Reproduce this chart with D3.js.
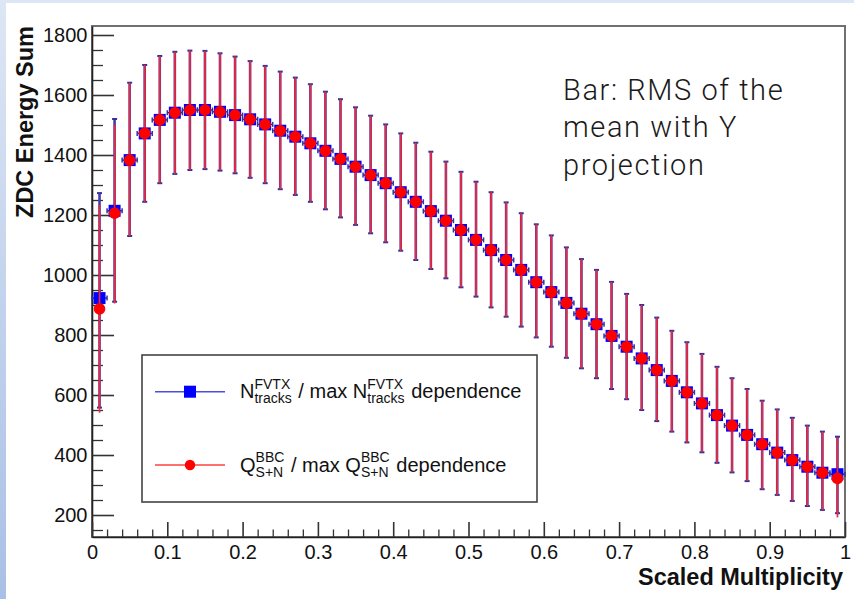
<!DOCTYPE html>
<html>
<head>
<meta charset="utf-8">
<script src="https://cdn.jsdelivr.net/npm/d3@7"></script>
<style>
body { margin: 0; background: #fff; }
svg { display: block; font-family: "Liberation Sans", Arial, Helvetica, sans-serif; }
</style>
</head>
<body>
<svg id="chart" width="854" height="599"></svg>
<script>
// bin centres on the scaled multiplicity axis
var binCenters = [0.01, 0.03, 0.05, 0.07, 0.09, 0.11, 0.13, 0.15, 0.17, 0.19,
                  0.21, 0.23, 0.25, 0.27, 0.29, 0.31, 0.33, 0.35, 0.37, 0.39,
                  0.41, 0.43, 0.45, 0.47, 0.49, 0.51, 0.53, 0.55, 0.57, 0.59,
                  0.61, 0.63, 0.65, 0.67, 0.69, 0.71, 0.73, 0.75, 0.77, 0.79,
                  0.81, 0.83, 0.85, 0.87, 0.89, 0.91, 0.93, 0.95, 0.97, 0.99];
var binHalfWidth = 0.01;

var xTickValues = [0, 0.1, 0.2, 0.3, 0.4, 0.5, 0.6, 0.7, 0.8, 0.9, 1];
var xTickLabels = ["0", "0.1", "0.2", "0.3", "0.4", "0.5", "0.6", "0.7", "0.8", "0.9", "1"];
var yTickValues = [200, 400, 600, 800, 1000, 1200, 1400, 1600, 1800];
var yTickLabels = ["200", "400", "600", "800", "1000", "1200", "1400", "1600", "1800"];

// N_tracks^FVTX / max dependence: mean and RMS bar ends
var fvtxMean = [923, 1214, 1383, 1472, 1517, 1541, 1550, 1550, 1544, 1533,
                1519, 1502, 1481, 1461, 1439, 1414, 1387, 1361, 1333, 1306,
                1276, 1244, 1213, 1181, 1150, 1117, 1083, 1050, 1017, 976,
                943, 907, 871, 836, 797, 761, 722, 683, 647, 609,
                572, 533, 498, 467, 436, 408, 383, 361, 341, 336];
var fvtxHigh = [1273, 1520, 1641, 1700, 1730, 1744, 1748, 1747, 1739, 1728,
                1713, 1697, 1678, 1658, 1636, 1611, 1586, 1559, 1531, 1502,
                1472, 1441, 1411, 1378, 1344, 1311, 1276, 1242, 1206, 1169,
                1132, 1092, 1053, 1017, 977, 937, 900, 858, 814, 776,
                737, 694, 656, 620, 581, 552, 524, 498, 478, 461];
var fvtxLow = [558, 911, 1130, 1244, 1306, 1337, 1350, 1353, 1348, 1339,
               1324, 1306, 1286, 1267, 1244, 1219, 1192, 1167, 1139, 1109,
               1081, 1050, 1020, 989, 959, 928, 892, 861, 828, 792,
               761, 724, 689, 656, 620, 586, 550, 513, 478, 442,
               409, 374, 342, 313, 286, 267, 247, 230, 217, 206];

// Q_S+N^BBC / max dependence
var bbcMean = [887, 1206, 1383, 1472, 1517, 1541, 1550, 1550, 1544, 1533,
               1519, 1502, 1481, 1461, 1439, 1414, 1387, 1361, 1333, 1306,
               1276, 1244, 1213, 1181, 1150, 1117, 1083, 1050, 1017, 976,
               943, 907, 871, 836, 797, 761, 722, 683, 647, 609,
               572, 533, 498, 467, 436, 408, 383, 361, 341, 322];
var bbcHigh = [1233, 1500, 1641, 1700, 1730, 1744, 1748, 1747, 1739, 1728,
               1713, 1697, 1678, 1658, 1636, 1611, 1586, 1559, 1531, 1502,
               1472, 1441, 1411, 1378, 1344, 1311, 1276, 1242, 1206, 1169,
               1132, 1092, 1053, 1017, 977, 937, 900, 858, 814, 776,
               737, 694, 656, 620, 581, 552, 524, 498, 478, 458];
var bbcLow = [541, 905, 1130, 1244, 1306, 1337, 1350, 1353, 1348, 1339,
              1324, 1306, 1286, 1267, 1244, 1219, 1192, 1167, 1139, 1109,
              1081, 1050, 1020, 989, 959, 928, 892, 861, 828, 792,
              761, 724, 689, 656, 620, 586, 550, 513, 478, 442,
              409, 374, 342, 313, 286, 267, 247, 230, 217, 192];

var noteLines = ["Bar: RMS of the", "mean with Y", "projection"];

var svg = d3.select('#chart');
var frame = { left: 92, right: 845, top: 26, bottom: 537 };

// slide background strips
var defs = svg.append('defs');
var grad = defs.append('linearGradient')
    .attr('id', 'strip-grad')
    .attr('x1', 0).attr('y1', 0).attr('x2', 0).attr('y2', 1);
grad.append('stop').attr('offset', '0%').attr('stop-color', '#dde6f4');
grad.append('stop').attr('offset', '100%').attr('stop-color', '#a9c0e6');
svg.append('rect').attr('x', 0).attr('y', 0).attr('width', 854).attr('height', 3).attr('fill', '#dde6f4');
svg.append('rect').attr('x', 0).attr('y', 0).attr('width', 6).attr('height', 599).attr('fill', 'url(#strip-grad)');

var x = d3.scaleLinear().domain([0, 1]).range([frame.left, frame.right]);
var y = d3.scaleLinear().domain([126.7, 1830]).range([frame.bottom, frame.top]);

// frame
svg.append('rect')
    .attr('x', frame.left).attr('y', frame.top)
    .attr('width', frame.right - frame.left)
    .attr('height', frame.bottom - frame.top)
    .attr('fill', 'none')
    .attr('stroke', '#707070')
    .attr('stroke-width', 2);

// minor ticks
var yMinor = d3.range(150, 1830, 50).filter(function (v) { return v % 200 !== 0; });
var xMinor = d3.range(0, 50).map(function (i) { return i * 0.02; })
    .filter(function (v, i) { return i % 5 !== 0; });

svg.append('g')
    .attr('class', 'minor')
    .attr('transform', 'translate(' + frame.left + ',0)')
    .call(d3.axisLeft(y).tickValues(yMinor).tickSizeInner(-11).tickSizeOuter(0).tickFormat(''));
svg.append('g')
    .attr('class', 'minor')
    .attr('transform', 'translate(0,' + frame.bottom + ')')
    .call(d3.axisBottom(x).tickValues(xMinor).tickSizeInner(-7.5).tickSizeOuter(0).tickFormat(''));

// major ticks and labels
svg.append('g')
    .attr('class', 'major')
    .attr('transform', 'translate(' + frame.left + ',0)')
    .call(d3.axisLeft(y).tickValues(yTickValues).tickSizeInner(-22).tickSizeOuter(0).tickPadding(4.5)
        .tickFormat(function (d, i) { return yTickLabels[i]; }));
svg.append('g')
    .attr('class', 'major')
    .attr('transform', 'translate(0,' + frame.bottom + ')')
    .call(d3.axisBottom(x).tickValues(xTickValues).tickSizeInner(-15).tickSizeOuter(0).tickPadding(8)
        .tickFormat(function (d, i) { return xTickLabels[i]; }));

svg.selectAll('.minor .tick line').attr('stroke', '#333').attr('stroke-width', 1.3);
svg.selectAll('.major .tick line').attr('stroke', '#333').attr('stroke-width', 1.6);
svg.selectAll('.minor .domain').remove();
svg.selectAll('.major .domain').attr('stroke', '#222').attr('stroke-width', 1.6);
svg.selectAll('.major .tick text')
    .attr('font-size', 20)
    .attr('fill', '#111')
    .attr('font-family', '"Liberation Sans", Arial, sans-serif');

// axis titles
svg.append('text')
    .attr('transform', 'translate(33,' + frame.top + ') rotate(-90)')
    .attr('text-anchor', 'end')
    .attr('font-size', 23.5)
    .attr('font-weight', 'bold')
    .attr('fill', '#111')
    .text('ZDC Energy Sum');
svg.append('text')
    .attr('x', 843)
    .attr('y', 585)
    .attr('text-anchor', 'end')
    .attr('font-size', 23.5)
    .attr('font-weight', 'bold')
    .attr('fill', '#111')
    .text('Scaled Multiplicity');

// data points
function drawSeries(g, mean, high, low, opts) {
    var pts = binCenters.map(function (c, i) {
        return { x: c, m: mean[i], hi: high[i], lo: low[i] };
    });
    g.selectAll('line.vbar')
        .data(pts)
        .enter().append('line')
        .attr('class', 'vbar')
        .attr('x1', function (d) { return x(d.x); })
        .attr('x2', function (d) { return x(d.x); })
        .attr('y1', function (d) { return y(d.hi); })
        .attr('y2', function (d) { return y(d.lo); })
        .attr('stroke', opts.bar)
        .attr('stroke-width', opts.barWidth);
    if (opts.caps) {
        ['hi', 'lo'].forEach(function (k) {
            g.selectAll('line.cap-' + k)
                .data(pts)
                .enter().append('line')
                .attr('class', 'cap-' + k)
                .attr('x1', function (d) { return x(d.x) - 2.5; })
                .attr('x2', function (d) { return x(d.x) + 2.5; })
                .attr('y1', function (d) { return y(d[k]); })
                .attr('y2', function (d) { return y(d[k]); })
                .attr('stroke', opts.cap)
                .attr('stroke-width', 2);
        });
        g.selectAll('line.hbar')
            .data(pts)
            .enter().append('line')
            .attr('class', 'hbar')
            .attr('x1', function (d) { return x(d.x - binHalfWidth); })
            .attr('x2', function (d) { return x(d.x + binHalfWidth); })
            .attr('y1', function (d) { return y(d.m); })
            .attr('y2', function (d) { return y(d.m); })
            .attr('stroke', opts.cap)
            .attr('stroke-width', 1.5);
        [-1, 1].forEach(function (s) {
            g.selectAll('line.hcap' + (s < 0 ? 'l' : 'r'))
                .data(pts)
                .enter().append('line')
                .attr('class', 'hcap' + (s < 0 ? 'l' : 'r'))
                .attr('x1', function (d) { return x(d.x + s * binHalfWidth); })
                .attr('x2', function (d) { return x(d.x + s * binHalfWidth); })
                .attr('y1', function (d) { return y(d.m) - 2.5; })
                .attr('y2', function (d) { return y(d.m) + 2.5; })
                .attr('stroke', opts.cap)
                .attr('stroke-width', 1.5);
        });
    }
    if (opts.shape === 'square') {
        g.selectAll('rect.pt')
            .data(pts)
            .enter().append('rect')
            .attr('class', 'pt')
            .attr('x', function (d) { return x(d.x) - 6; })
            .attr('y', function (d) { return y(d.m) - 6; })
            .attr('width', 12)
            .attr('height', 12)
            .attr('fill', opts.fill);
    } else {
        g.selectAll('circle.pt')
            .data(pts)
            .enter().append('circle')
            .attr('class', 'pt')
            .attr('cx', function (d) { return x(d.x); })
            .attr('cy', function (d) { return y(d.m); })
            .attr('r', 5.8)
            .attr('fill', opts.fill);
    }
}

drawSeries(svg.append('g'), fvtxMean, fvtxHigh, fvtxLow,
    { bar: '#4a3aa8', barWidth: 2.6, caps: true, cap: '#33339a', shape: 'square', fill: '#0000ff' });
drawSeries(svg.append('g'), bbcMean, bbcHigh, bbcLow,
    { bar: '#f02838', barWidth: 1.7, caps: false, shape: 'circle', fill: '#ff0000' });

// legend
var legend = svg.append('g').attr('class', 'legend');
legend.append('rect')
    .attr('x', 142).attr('y', 355)
    .attr('width', 395).attr('height', 147)
    .attr('fill', '#fff')
    .attr('stroke', '#444')
    .attr('stroke-width', 1.6);

function richLabel(g, x0, baseline, parts) {
    var cx = x0;
    parts.forEach(function (p) {
        if (p.t !== undefined) {
            var t = g.append('text')
                .attr('x', cx).attr('y', baseline)
                .attr('font-size', 20).attr('fill', '#111')
                .style('white-space', 'pre')
                .text(p.t);
            cx += t.node().getComputedTextLength();
        } else {
            var sup = g.append('text')
                .attr('x', cx).attr('y', baseline - 9.5)
                .attr('font-size', 14).attr('fill', '#111')
                .text(p.sup);
            var sub = g.append('text')
                .attr('x', cx).attr('y', baseline + 5)
                .attr('font-size', 14).attr('fill', '#111')
                .text(p.sub);
            cx += Math.max(sup.node().getComputedTextLength(), sub.node().getComputedTextLength()) + 1;
        }
    });
}

var legendRows = [
    { y: 391.7, color: '#4d4de0', shape: 'square', fill: '#0000ff',
      parts: [{ t: 'N' }, { sup: 'FVTX', sub: 'tracks' }, { t: ' / max N' }, { sup: 'FVTX', sub: 'tracks' }, { t: ' dependence' }] },
    { y: 465, color: '#ff4040', shape: 'circle', fill: '#ff0000',
      parts: [{ t: 'Q' }, { sup: 'BBC', sub: 'S+N' }, { t: ' / max Q' }, { sup: 'BBC', sub: 'S+N' }, { t: ' dependence' }] }
];
legendRows.forEach(function (row) {
    legend.append('line')
        .attr('x1', 155).attr('x2', 225)
        .attr('y1', row.y).attr('y2', row.y)
        .attr('stroke', row.color).attr('stroke-width', 1.5);
    if (row.shape === 'square') {
        legend.append('rect')
            .attr('x', 184).attr('y', row.y - 6)
            .attr('width', 12).attr('height', 12)
            .attr('fill', row.fill);
    } else {
        legend.append('circle')
            .attr('cx', 190).attr('cy', row.y).attr('r', 5.2)
            .attr('fill', row.fill);
    }
    richLabel(legend, 240, row.y + 6.7, row.parts);
});

// annotation, one text per line
noteLines.forEach(function (line, i) {
    svg.append('text')
        .attr('x', 563)
        .attr('y', 99.5 + i * 37.5)
        .attr('font-family', 'Roboto, "Noto Sans", sans-serif')
        .attr('font-size', 29)
        .attr('font-weight', 300)
        .attr('letter-spacing', 1.6)
        .attr('fill', '#1a1a1a')
        .text(line);
});
</script>
</body>
</html>
